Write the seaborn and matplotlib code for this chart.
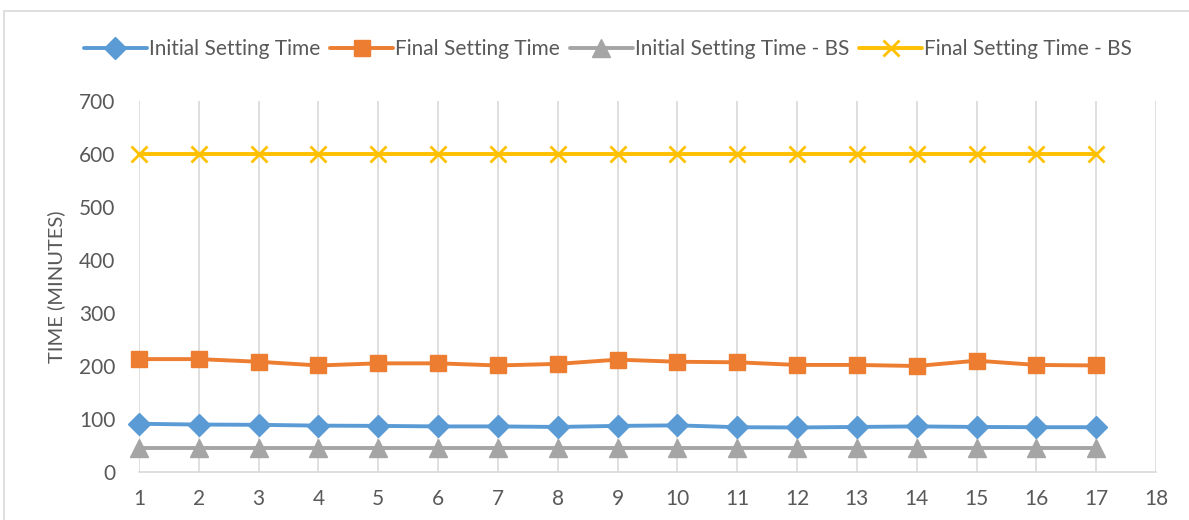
import matplotlib
matplotlib.use("Agg")
import matplotlib.pyplot as plt
import seaborn as sns
import pandas as pd
from matplotlib.patches import Rectangle

samples = list(range(1, 18))
initial_setting = [91, 89.5, 89, 87.5, 87, 86, 86, 85, 87, 88, 84.5, 84, 85, 86, 85, 84.5, 84.5]
final_setting = [213, 213, 208, 201, 205, 205, 201, 204, 212, 208, 207, 202, 202, 200, 210, 202, 201]
initial_bs = [45] * 17
final_bs = [600] * 17
x_ticks = list(range(1, 19))
y_ticks = list(range(0, 701, 100))

series = [
    ("Initial Setting Time", initial_setting, "#5B9BD5", "D", 11),
    ("Final Setting Time", final_setting, "#ED7D31", "s", 12),
    ("Initial Setting Time - BS", initial_bs, "#A5A5A5", "^", 13),
    ("Final Setting Time - BS", final_bs, "#FFC000", "x", 11),
]

sns.set_theme(style="white")
plt.rcParams['font.family'] = ['Lato', 'DejaVu Sans']

fig = plt.figure(figsize=(11.89, 5.20), dpi=100)
ax = fig.add_axes([139/1189, 1-472/520, (1156-139)/1189, (472-101)/520])

for name, vals, col, mk, ms in series:
    df = pd.DataFrame({"x": samples, "y": vals})
    sns.lineplot(data=df, x="x", y="y", ax=ax, color=col, marker=mk, markersize=ms,
                 linewidth=2.8, label=name, markeredgecolor=col,
                 markeredgewidth=2 if mk == "x" else 1, clip_on=False, zorder=3)

ax.set_xlim(1, 18)
ax.set_ylim(0, 700)
ax.set_xticks(x_ticks)
ax.set_yticks(y_ticks)
ax.xaxis.grid(True, color="#D9D9D9", linewidth=1.2)
ax.yaxis.grid(False)
for s in ["top", "left", "right"]:
    ax.spines[s].set_visible(False)
ax.spines["bottom"].set_color("#D9D9D9")
ax.spines["bottom"].set_linewidth(1.2)
ax.tick_params(axis="both", length=0, labelsize=15, labelcolor="#595959")
ax.tick_params(axis="y", pad=17)
ax.tick_params(axis="x", pad=12)
ax.set_xlabel("")
ax.set_ylabel("TIME (MINUTES)", fontsize=14.5, color="#595959", labelpad=10)

ax.get_legend().remove()
handles, labels = ax.get_legend_handles_labels()
fig.legend(handles, labels, loc="center", bbox_to_anchor=(608/1189, 1-49/520), ncol=4,
           frameon=False, fontsize=15, labelcolor="#595959", handlelength=3.0,
           handletextpad=0.1, columnspacing=0.5)

fig.patches.append(Rectangle((4/1189, -0.1), 1.2, 1.1 - 11/520, transform=fig.transFigure,
                             fill=False, edgecolor="#D9D9D9", linewidth=1.2))

fig.savefig("out.png", dpi=100)
